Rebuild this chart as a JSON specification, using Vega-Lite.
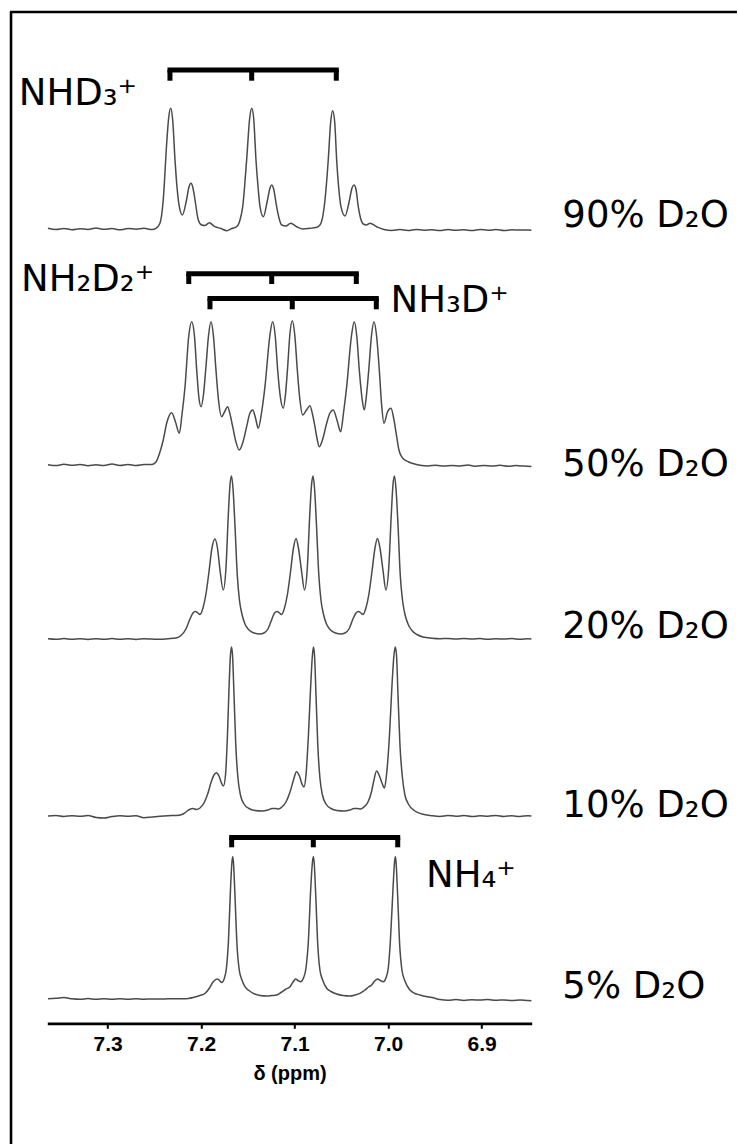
{
"$schema": "https://vega.github.io/schema/vega-lite/v6.json",
"usermeta": {"embedOptions": {"actions": false}},
"width": 484.4,
"height": 1132,
"autosize": {"type": "none"},
"padding": {"left": 47.3, "top": 12, "right": 206.3, "bottom": 0},
"background": "white",
"config": {
 "view": {"stroke": null},
 "axisX": {"grid": false, "labelFlush": false, "labelOverlap": false, "domainColor": "black", "domainWidth": 2.7, "tickColor": "black", "tickWidth": 2, "tickSize": 5,
  "labelFont": "Liberation Sans", "labelFontWeight": "bold", "labelFontSize": 21, "labelColor": "black", "labelPadding": 5,
  "titleFont": "Liberation Sans", "titleFontWeight": "bold", "titleFontSize": 20, "titleColor": "black", "titlePadding": 9},
 "text": {"font": "DejaVu Sans", "fontSize": 37, "align": "left", "baseline": "alphabetic", "color": "black"},
 "line": {"interpolate": "monotone", "color": "#4a4a4a", "strokeWidth": 1.5}
},
"datasets": {
"spectrum_90": [
{"ppm":7.3639,"intensity":0.8},{"ppm":7.3553,"intensity":-0.4},{"ppm":7.3468,"intensity":0.6},{"ppm":7.3382,"intensity":-0.7},{"ppm":7.3296,"intensity":0.3},{"ppm":7.3211,"intensity":-0.5},{"ppm":7.3125,"intensity":0.9},{"ppm":7.3040,"intensity":-0.3},{"ppm":7.2954,"intensity":0.4},{"ppm":7.2869,"intensity":-0.8},{"ppm":7.2783,"intensity":0.5},{"ppm":7.2697,"intensity":-0.2},{"ppm":7.2612,"intensity":0.7},{"ppm":7.2526,"intensity":-0.5},{"ppm":7.2484,"intensity":0.7},
{"ppm":7.2441,"intensity":5.7},{"ppm":7.2406,"intensity":29},{"ppm":7.2369,"intensity":85.7},{"ppm":7.2348,"intensity":111},{"ppm":7.2326,"intensity":120.7},{"ppm":7.2305,"intensity":109},{"ppm":7.2280,"intensity":69},{"ppm":7.2256,"intensity":39},{"ppm":7.2234,"intensity":22.3},{"ppm":7.2202,"intensity":14},{"ppm":7.2157,"intensity":29},{"ppm":7.2131,"intensity":42},{"ppm":7.2109,"intensity":45.7},{"ppm":7.2088,"intensity":41},{"ppm":7.2066,"intensity":29},{"ppm":7.2031,"intensity":9},{"ppm":7.1995,"intensity":4},{"ppm":7.1960,"intensity":3.5},{"ppm":7.1914,"intensity":6.3},{"ppm":7.1853,"intensity":2.3},{"ppm":7.1788,"intensity":0.5},{"ppm":7.1727,"intensity":-1.7},{"ppm":7.1671,"intensity":0.5},{"ppm":7.1620,"intensity":2.3},{"ppm":7.1585,"intensity":9},{"ppm":7.1556,"intensity":22.3},{"ppm":7.1514,"intensity":69},{"ppm":7.1481,"intensity":111},{"ppm":7.1460,"intensity":120.7},{"ppm":7.1439,"intensity":111},{"ppm":7.1414,"intensity":69},{"ppm":7.1389,"intensity":39},{"ppm":7.1371,"intensity":22.3},{"ppm":7.1336,"intensity":12.3},{"ppm":7.1291,"intensity":29},{"ppm":7.1264,"intensity":41},{"ppm":7.1246,"intensity":44},{"ppm":7.1225,"intensity":40},{"ppm":7.1193,"intensity":22.3},{"ppm":7.1168,"intensity":11},{"ppm":7.1139,"intensity":4},{"ppm":7.1093,"intensity":3},{"ppm":7.1043,"intensity":5.7},{"ppm":7.0979,"intensity":2.3},{"ppm":7.0911,"intensity":0},{"ppm":7.0837,"intensity":0.7},{"ppm":7.0772,"intensity":1.5},{"ppm":7.0730,"intensity":4},{"ppm":7.0697,"intensity":14},{"ppm":7.0676,"intensity":29},{"ppm":7.0641,"intensity":69},{"ppm":7.0615,"intensity":107},{"ppm":7.0594,"intensity":118.3},{"ppm":7.0572,"intensity":107},{"ppm":7.0551,"intensity":69},{"ppm":7.0527,"intensity":39},{"ppm":7.0505,"intensity":22.3},{"ppm":7.0462,"intensity":13},{"ppm":7.0414,"intensity":29},{"ppm":7.0387,"intensity":41},{"ppm":7.0366,"intensity":44},{"ppm":7.0345,"intensity":40},{"ppm":7.0320,"intensity":22.3},{"ppm":7.0296,"intensity":11},{"ppm":7.0266,"intensity":5},{"ppm":7.0232,"intensity":4},{"ppm":7.0195,"intensity":5.7},{"ppm":7.0123,"intensity":2.3},
{"ppm":7.0045,"intensity":-0.5},{"ppm":6.9960,"intensity":-1.4},{"ppm":6.9874,"intensity":-0.6},{"ppm":6.9788,"intensity":-1.5},{"ppm":6.9703,"intensity":-0.4},{"ppm":6.9617,"intensity":-1.2},{"ppm":6.9532,"intensity":-0.7},{"ppm":6.9446,"intensity":-1.6},{"ppm":6.9361,"intensity":-0.5},{"ppm":6.9275,"intensity":-1.3},{"ppm":6.9190,"intensity":-0.8},{"ppm":6.9104,"intensity":-1.5},{"ppm":6.9018,"intensity":-0.4},{"ppm":6.8933,"intensity":-1.2},{"ppm":6.8847,"intensity":-0.6},{"ppm":6.8762,"intensity":-1.6},{"ppm":6.8676,"intensity":-0.7},{"ppm":6.8591,"intensity":-1.1},{"ppm":6.8505,"intensity":-0.9},{"ppm":6.8468,"intensity":-1.2}
],
"spectrum_50": [
{"ppm":7.3639,"intensity":0.3},{"ppm":7.3553,"intensity":-0.6},{"ppm":7.3468,"intensity":0.8},{"ppm":7.3382,"intensity":-0.3},{"ppm":7.3296,"intensity":0.5},{"ppm":7.3211,"intensity":-0.7},{"ppm":7.3125,"intensity":0.2},{"ppm":7.3040,"intensity":-0.5},{"ppm":7.2954,"intensity":0.9},{"ppm":7.2869,"intensity":-0.4},{"ppm":7.2783,"intensity":0.6},{"ppm":7.2697,"intensity":-0.6},{"ppm":7.2612,"intensity":0.4},{"ppm":7.2526,"intensity":0.6},
{"ppm":7.2484,"intensity":3},{"ppm":7.2441,"intensity":13},{"ppm":7.2406,"intensity":25},{"ppm":7.2366,"intensity":43},{"ppm":7.2316,"intensity":52.3},{"ppm":7.2275,"intensity":43},{"ppm":7.2234,"intensity":31.7},{"ppm":7.2206,"intensity":50},{"ppm":7.2173,"intensity":78.3},{"ppm":7.2133,"intensity":129},{"ppm":7.2102,"intensity":143.3},{"ppm":7.2072,"intensity":129},{"ppm":7.2048,"intensity":95},{"ppm":7.2024,"intensity":67},{"ppm":7.2002,"intensity":58.3},{"ppm":7.1976,"intensity":70},{"ppm":7.1949,"intensity":98.3},{"ppm":7.1922,"intensity":129},{"ppm":7.1895,"intensity":143.3},{"ppm":7.1869,"intensity":129},{"ppm":7.1842,"intensity":95},{"ppm":7.1815,"intensity":65},{"ppm":7.1781,"intensity":48.3},{"ppm":7.1751,"intensity":53},{"ppm":7.1717,"intensity":58.3},{"ppm":7.1692,"intensity":51},{"ppm":7.1663,"intensity":38.3},{"ppm":7.1628,"intensity":23},{"ppm":7.1593,"intensity":15},{"ppm":7.1553,"intensity":23},{"ppm":7.1514,"intensity":38.3},{"ppm":7.1482,"intensity":51},{"ppm":7.1449,"intensity":55},{"ppm":7.1419,"intensity":47},{"ppm":7.1390,"intensity":36.7},{"ppm":7.1355,"intensity":52},{"ppm":7.1318,"intensity":78.3},{"ppm":7.1266,"intensity":129},{"ppm":7.1236,"intensity":143.3},{"ppm":7.1208,"intensity":129},{"ppm":7.1182,"intensity":95},{"ppm":7.1152,"intensity":67},{"ppm":7.1122,"intensity":56.7},{"ppm":7.1099,"intensity":70},{"ppm":7.1075,"intensity":98.3},{"ppm":7.1052,"intensity":130},{"ppm":7.1026,"intensity":144.3},{"ppm":7.0999,"intensity":130},{"ppm":7.0972,"intensity":95},{"ppm":7.0944,"intensity":65},{"ppm":7.0915,"intensity":50},{"ppm":7.0874,"intensity":55},{"ppm":7.0837,"intensity":59.3},{"ppm":7.0810,"intensity":51},{"ppm":7.0783,"intensity":38.3},{"ppm":7.0762,"intensity":27},{"ppm":7.0737,"intensity":18.3},{"ppm":7.0703,"intensity":25},{"ppm":7.0658,"intensity":41.7},{"ppm":7.0623,"intensity":52},{"ppm":7.0587,"intensity":55},{"ppm":7.0548,"intensity":45},{"ppm":7.0508,"intensity":33.3},{"ppm":7.0478,"intensity":52},{"ppm":7.0444,"intensity":78.3},{"ppm":7.0393,"intensity":129},{"ppm":7.0363,"intensity":143.3},{"ppm":7.0336,"intensity":129},{"ppm":7.0309,"intensity":95},{"ppm":7.0280,"intensity":67},{"ppm":7.0256,"intensity":55},{"ppm":7.0232,"intensity":70},{"ppm":7.0205,"intensity":98.3},{"ppm":7.0179,"intensity":129},{"ppm":7.0152,"intensity":143.3},{"ppm":7.0124,"intensity":129},{"ppm":7.0095,"intensity":95},{"ppm":7.0070,"intensity":60},{"ppm":7.0045,"intensity":41.7},{"ppm":7.0008,"intensity":53},{"ppm":6.9970,"intensity":56.7},{"ppm":6.9938,"intensity":45},{"ppm":6.9909,"intensity":28.3},{"ppm":6.9885,"intensity":15},{"ppm":6.9856,"intensity":8.3},{"ppm":6.9821,"intensity":5},{"ppm":6.9785,"intensity":3.3},{"ppm":6.9735,"intensity":1.5},
{"ppm":6.9660,"intensity":-0.3},{"ppm":6.9575,"intensity":-1.0},{"ppm":6.9489,"intensity":-0.2},{"ppm":6.9403,"intensity":-1.1},{"ppm":6.9318,"intensity":-0.4},{"ppm":6.9232,"intensity":-0.9},{"ppm":6.9147,"intensity":-0.1},{"ppm":6.9061,"intensity":-1.2},{"ppm":6.8976,"intensity":-0.5},{"ppm":6.8890,"intensity":-1.0},{"ppm":6.8805,"intensity":-0.3},{"ppm":6.8719,"intensity":-1.3},{"ppm":6.8633,"intensity":-0.6},{"ppm":6.8548,"intensity":-1.1},{"ppm":6.8468,"intensity":-1.5}
],
"spectrum_20": [
{"ppm":7.3639,"intensity":0.2},{"ppm":7.3553,"intensity":-0.3},{"ppm":7.3468,"intensity":0.4},{"ppm":7.3382,"intensity":-0.2},{"ppm":7.3296,"intensity":0.3},{"ppm":7.3211,"intensity":-0.4},{"ppm":7.3125,"intensity":0.2},{"ppm":7.3040,"intensity":-0.3},{"ppm":7.2954,"intensity":0.4},{"ppm":7.2869,"intensity":-0.2},{"ppm":7.2783,"intensity":0.3},{"ppm":7.2697,"intensity":-0.4},{"ppm":7.2612,"intensity":0.2},{"ppm":7.2526,"intensity":-0.1},{"ppm":7.2441,"intensity":-0.3},{"ppm":7.2355,"intensity":0.3},
{"ppm":7.2270,"intensity":1},{"ppm":7.2216,"intensity":3.5},{"ppm":7.2163,"intensity":10},{"ppm":7.2120,"intensity":20},{"ppm":7.2088,"intensity":26},{"ppm":7.2061,"intensity":27.5},{"ppm":7.2034,"intensity":26},{"ppm":7.2013,"intensity":24.5},{"ppm":7.1981,"intensity":31},{"ppm":7.1949,"intensity":45},{"ppm":7.1917,"intensity":67},{"ppm":7.1885,"intensity":91},{"ppm":7.1853,"intensity":100},{"ppm":7.1826,"intensity":91},{"ppm":7.1799,"intensity":69},{"ppm":7.1764,"intensity":49},{"ppm":7.1735,"intensity":71},{"ppm":7.1710,"intensity":124},{"ppm":7.1692,"intensity":154},{"ppm":7.1676,"intensity":163},{"ppm":7.1660,"intensity":151},{"ppm":7.1639,"intensity":114},{"ppm":7.1614,"intensity":64},{"ppm":7.1591,"intensity":39},{"ppm":7.1567,"intensity":26},{"ppm":7.1532,"intensity":15},{"ppm":7.1489,"intensity":9},{"ppm":7.1436,"intensity":6},{"ppm":7.1371,"intensity":5},{"ppm":7.1329,"intensity":6},{"ppm":7.1286,"intensity":10},{"ppm":7.1243,"intensity":20},{"ppm":7.1216,"intensity":26},{"ppm":7.1189,"intensity":27.5},{"ppm":7.1163,"intensity":26},{"ppm":7.1141,"intensity":24.5},{"ppm":7.1109,"intensity":31},{"ppm":7.1077,"intensity":45},{"ppm":7.1045,"intensity":67},{"ppm":7.1013,"intensity":91},{"ppm":7.0986,"intensity":100.5},{"ppm":7.0960,"intensity":91},{"ppm":7.0928,"intensity":69},{"ppm":7.0895,"intensity":49},{"ppm":7.0865,"intensity":71},{"ppm":7.0839,"intensity":124},{"ppm":7.0820,"intensity":154},{"ppm":7.0804,"intensity":163},{"ppm":7.0788,"intensity":151},{"ppm":7.0767,"intensity":114},{"ppm":7.0742,"intensity":64},{"ppm":7.0719,"intensity":39},{"ppm":7.0695,"intensity":26},{"ppm":7.0660,"intensity":15},{"ppm":7.0617,"intensity":9},{"ppm":7.0564,"intensity":6},{"ppm":7.0505,"intensity":5},{"ppm":7.0462,"intensity":6},{"ppm":7.0419,"intensity":10},{"ppm":7.0377,"intensity":20},{"ppm":7.0344,"intensity":26},{"ppm":7.0318,"intensity":27.5},{"ppm":7.0291,"intensity":26},{"ppm":7.0270,"intensity":24.5},{"ppm":7.0238,"intensity":31},{"ppm":7.0206,"intensity":45},{"ppm":7.0174,"intensity":67},{"ppm":7.0141,"intensity":91},{"ppm":7.0115,"intensity":100.5},{"ppm":7.0088,"intensity":91},{"ppm":7.0056,"intensity":69},{"ppm":7.0024,"intensity":49},{"ppm":6.9994,"intensity":71},{"ppm":6.9967,"intensity":124},{"ppm":6.9949,"intensity":154},{"ppm":6.9933,"intensity":163},{"ppm":6.9917,"intensity":151},{"ppm":6.9895,"intensity":114},{"ppm":6.9871,"intensity":64},{"ppm":6.9847,"intensity":39},{"ppm":6.9824,"intensity":26},{"ppm":6.9788,"intensity":15},{"ppm":6.9746,"intensity":8.5},{"ppm":6.9692,"intensity":4.5},{"ppm":6.9628,"intensity":2},
{"ppm":6.9532,"intensity":0.8},{"ppm":6.9446,"intensity":0.3},{"ppm":6.9361,"intensity":0.6},{"ppm":6.9275,"intensity":0.1},{"ppm":6.9190,"intensity":0.5},{"ppm":6.9104,"intensity":0.0},{"ppm":6.9018,"intensity":0.4},{"ppm":6.8933,"intensity":-0.2},{"ppm":6.8847,"intensity":0.3},{"ppm":6.8762,"intensity":-0.1},{"ppm":6.8676,"intensity":0.4},{"ppm":6.8591,"intensity":-0.3},{"ppm":6.8505,"intensity":0.2},{"ppm":6.8468,"intensity":0.0}
],
"spectrum_10": [
{"ppm":7.3639,"intensity":0.0},{"ppm":7.3553,"intensity":0.5},{"ppm":7.3468,"intensity":-0.5},{"ppm":7.3382,"intensity":0.3},{"ppm":7.3296,"intensity":-0.2},{"ppm":7.3211,"intensity":0.4},{"ppm":7.3125,"intensity":-1.5},{"ppm":7.3040,"intensity":-2.0},{"ppm":7.2954,"intensity":-0.5},{"ppm":7.2869,"intensity":0.3},{"ppm":7.2783,"intensity":-0.2},{"ppm":7.2697,"intensity":0.2},{"ppm":7.2612,"intensity":-1.8},{"ppm":7.2526,"intensity":-1.0},{"ppm":7.2441,"intensity":-0.2},{"ppm":7.2355,"intensity":0.3},
{"ppm":7.2270,"intensity":0.5},{"ppm":7.2206,"intensity":1.5},{"ppm":7.2163,"intensity":4},{"ppm":7.2125,"intensity":6.5},{"ppm":7.2088,"intensity":7.5},{"ppm":7.2050,"intensity":6.5},{"ppm":7.2013,"intensity":8},{"ppm":7.1970,"intensity":13},{"ppm":7.1927,"intensity":23},{"ppm":7.1890,"intensity":35},{"ppm":7.1863,"intensity":41},{"ppm":7.1837,"intensity":43.3},{"ppm":7.1810,"intensity":40},{"ppm":7.1783,"intensity":33},{"ppm":7.1762,"intensity":30},{"ppm":7.1740,"intensity":41},{"ppm":7.1719,"intensity":81},{"ppm":7.1703,"intensity":126},{"ppm":7.1687,"intensity":161},{"ppm":7.1676,"intensity":169},{"ppm":7.1665,"intensity":161},{"ppm":7.1649,"intensity":121},{"ppm":7.1630,"intensity":71},{"ppm":7.1607,"intensity":38},{"ppm":7.1580,"intensity":21},{"ppm":7.1542,"intensity":12},{"ppm":7.1489,"intensity":7.5},{"ppm":7.1425,"intensity":5.5},{"ppm":7.1350,"intensity":5},{"ppm":7.1286,"intensity":6},{"ppm":7.1243,"intensity":7.5},{"ppm":7.1205,"intensity":7.5},{"ppm":7.1173,"intensity":7},{"ppm":7.1136,"intensity":9},{"ppm":7.1093,"intensity":14},{"ppm":7.1050,"intensity":24},{"ppm":7.1013,"intensity":36},{"ppm":7.0981,"intensity":44.3},{"ppm":7.0949,"intensity":40},{"ppm":7.0922,"intensity":32},{"ppm":7.0901,"intensity":29},{"ppm":7.0879,"intensity":41},{"ppm":7.0853,"intensity":81},{"ppm":7.0831,"intensity":126},{"ppm":7.0810,"intensity":161},{"ppm":7.0799,"intensity":169},{"ppm":7.0788,"intensity":161},{"ppm":7.0772,"intensity":121},{"ppm":7.0753,"intensity":71},{"ppm":7.0730,"intensity":38},{"ppm":7.0703,"intensity":21},{"ppm":7.0665,"intensity":12},{"ppm":7.0612,"intensity":7.5},{"ppm":7.0548,"intensity":5.5},{"ppm":7.0473,"intensity":5},{"ppm":7.0409,"intensity":6},{"ppm":7.0366,"intensity":7.5},{"ppm":7.0334,"intensity":7.5},{"ppm":7.0296,"intensity":7},{"ppm":7.0259,"intensity":9},{"ppm":7.0216,"intensity":14},{"ppm":7.0179,"intensity":24},{"ppm":7.0152,"intensity":36},{"ppm":7.0125,"intensity":45},{"ppm":7.0093,"intensity":40},{"ppm":7.0066,"intensity":33},{"ppm":7.0040,"intensity":28},{"ppm":7.0018,"intensity":41},{"ppm":6.9986,"intensity":81},{"ppm":6.9962,"intensity":126},{"ppm":6.9938,"intensity":161},{"ppm":6.9924,"intensity":169},{"ppm":6.9911,"intensity":161},{"ppm":6.9895,"intensity":121},{"ppm":6.9874,"intensity":71},{"ppm":6.9847,"intensity":38},{"ppm":6.9821,"intensity":21},{"ppm":6.9778,"intensity":11},{"ppm":6.9714,"intensity":5},{"ppm":6.9639,"intensity":2},
{"ppm":6.9532,"intensity":0.3},{"ppm":6.9446,"intensity":-0.4},{"ppm":6.9361,"intensity":0.5},{"ppm":6.9275,"intensity":-0.2},{"ppm":6.9190,"intensity":0.4},{"ppm":6.9104,"intensity":-0.6},{"ppm":6.9018,"intensity":0.2},{"ppm":6.8933,"intensity":-0.3},{"ppm":6.8847,"intensity":0.6},{"ppm":6.8762,"intensity":-0.4},{"ppm":6.8676,"intensity":0.2},{"ppm":6.8591,"intensity":-0.5},{"ppm":6.8505,"intensity":0.3},{"ppm":6.8468,"intensity":0.0}
],
"spectrum_5": [
{"ppm":7.3639,"intensity":0.3},{"ppm":7.3553,"intensity":0.8},{"ppm":7.3468,"intensity":1.5},{"ppm":7.3382,"intensity":0.2},{"ppm":7.3296,"intensity":-0.3},{"ppm":7.3211,"intensity":0.4},{"ppm":7.3125,"intensity":-0.2},{"ppm":7.3040,"intensity":0.3},{"ppm":7.2954,"intensity":-0.3},{"ppm":7.2869,"intensity":0.2},{"ppm":7.2783,"intensity":-0.2},{"ppm":7.2697,"intensity":0.3},{"ppm":7.2612,"intensity":-0.2},{"ppm":7.2526,"intensity":0.1},{"ppm":7.2441,"intensity":0.0},{"ppm":7.2355,"intensity":0.2},{"ppm":7.2270,"intensity":0.3},{"ppm":7.2184,"intensity":0.3},
{"ppm":7.2141,"intensity":0.5},{"ppm":7.2067,"intensity":2},{"ppm":7.2013,"intensity":3.5},{"ppm":7.1960,"intensity":5.5},{"ppm":7.1911,"intensity":11},{"ppm":7.1871,"intensity":17.3},{"ppm":7.1824,"intensity":20},{"ppm":7.1781,"intensity":16.5},{"ppm":7.1751,"intensity":21},{"ppm":7.1730,"intensity":31},{"ppm":7.1708,"intensity":59},{"ppm":7.1687,"intensity":109},{"ppm":7.1671,"intensity":137},{"ppm":7.1663,"intensity":142.3},{"ppm":7.1655,"intensity":137},{"ppm":7.1639,"intensity":104},{"ppm":7.1617,"intensity":54},{"ppm":7.1593,"intensity":29},{"ppm":7.1564,"intensity":19},{"ppm":7.1532,"intensity":12.3},{"ppm":7.1489,"intensity":8.5},{"ppm":7.1443,"intensity":5.7},{"ppm":7.1371,"intensity":3.5},{"ppm":7.1300,"intensity":3},{"ppm":7.1243,"intensity":3.5},{"ppm":7.1193,"intensity":4},{"ppm":7.1147,"intensity":6.5},{"ppm":7.1093,"intensity":10},{"ppm":7.1050,"intensity":12.3},{"ppm":7.1018,"intensity":17},{"ppm":7.0990,"intensity":20},{"ppm":7.0965,"intensity":18.5},{"ppm":7.0936,"intensity":17.3},{"ppm":7.0906,"intensity":21},{"ppm":7.0879,"intensity":31},{"ppm":7.0853,"intensity":59},{"ppm":7.0829,"intensity":109},{"ppm":7.0810,"intensity":137},{"ppm":7.0801,"intensity":142.3},{"ppm":7.0792,"intensity":137},{"ppm":7.0775,"intensity":104},{"ppm":7.0753,"intensity":54},{"ppm":7.0730,"intensity":29},{"ppm":7.0701,"intensity":19},{"ppm":7.0658,"intensity":10.7},{"ppm":7.0612,"intensity":7.5},{"ppm":7.0551,"intensity":5},{"ppm":7.0484,"intensity":3.5},{"ppm":7.0409,"intensity":3},{"ppm":7.0355,"intensity":4},{"ppm":7.0302,"intensity":5.7},{"ppm":7.0248,"intensity":9},{"ppm":7.0211,"intensity":12},{"ppm":7.0177,"intensity":14},{"ppm":7.0145,"intensity":18},{"ppm":7.0113,"intensity":20},{"ppm":7.0083,"intensity":18.5},{"ppm":7.0053,"intensity":17.3},{"ppm":7.0024,"intensity":21},{"ppm":6.9999,"intensity":31},{"ppm":6.9976,"intensity":59},{"ppm":6.9949,"intensity":109},{"ppm":6.9932,"intensity":137},{"ppm":6.9924,"intensity":142.3},{"ppm":6.9916,"intensity":137},{"ppm":6.9899,"intensity":104},{"ppm":6.9877,"intensity":54},{"ppm":6.9853,"intensity":29},{"ppm":6.9821,"intensity":18},{"ppm":6.9767,"intensity":9},{"ppm":6.9714,"intensity":5.5},{"ppm":6.9660,"intensity":4},{"ppm":6.9596,"intensity":2.5},{"ppm":6.9532,"intensity":1.5},
{"ppm":6.9446,"intensity":-0.5},{"ppm":6.9361,"intensity":-1.2},{"ppm":6.9275,"intensity":-0.6},{"ppm":6.9190,"intensity":-1.4},{"ppm":6.9104,"intensity":-0.8},{"ppm":6.9018,"intensity":-1.1},{"ppm":6.8933,"intensity":-0.5},{"ppm":6.8847,"intensity":-1.3},{"ppm":6.8762,"intensity":-0.9},{"ppm":6.8676,"intensity":-1.5},{"ppm":6.8591,"intensity":-1.0},{"ppm":6.8505,"intensity":-1.6},{"ppm":6.8468,"intensity":-1.7}
],
"bracket_legs": [
{"species":"NHD3+","ppm":7.2334},{"species":"NHD3+","ppm":7.1460},{"species":"NHD3+","ppm":7.0555},
{"species":"NH2D2+","ppm":7.2133},{"species":"NH2D2+","ppm":7.1246},{"species":"NH2D2+","ppm":7.0341},
{"species":"NH3D+","ppm":7.1906},{"species":"NH3D+","ppm":7.1026},{"species":"NH3D+","ppm":7.0127},
{"species":"NH4+","ppm":7.1674},{"species":"NH4+","ppm":7.0801},{"species":"NH4+","ppm":6.9898}
],
"labels": [
{"id":"NHD3","text":"NHD₃⁺"},{"id":"NH2D2","text":"NH₂D₂⁺"},{"id":"NH3D","text":"NH₃D⁺"},{"id":"NH4","text":"NH₄⁺"},
{"id":"p90","text":"90% D₂O"},{"id":"p50","text":"50% D₂O"},{"id":"p20","text":"20% D₂O"},{"id":"p10","text":"10% D₂O"},{"id":"p5","text":"5% D₂O"}
],
"frame": [{"edge":"left"},{"edge":"top"}]
},
"layer": [
{"data":{"name":"spectrum_90"},"mark":{"type":"line"},
 "encoding":{"x":{"field":"ppm","type":"quantitative","scale":{"domain":[6.8465,7.3646],"reverse":true,"nice":false,"zero":false},
   "axis":{"values":[7.3,7.2,7.1,7.0,6.9],"format":".1f","title":"δ (ppm)","offset":-120.7,"labelFontSize":21,"titleFontSize":20,"titlePadding":9,"labelPadding":5}},
  "y":{"field":"intensity","type":"quantitative","scale":{"domain":[-915,217],"nice":false,"zero":false},"axis":null}}},
{"layer": [
 {"data":{"name":"frame"},"transform":[{"filter":"datum.edge === 'left'"}],"mark":{"type":"rule","color":"black","strokeWidth":2.6},
  "encoding":{"x":{"datum":7.4034,"type":"quantitative","scale":{"domain":[6.8465,7.3646],"reverse":true,"nice":false,"zero":false},"axis":{"values":[7.3,7.2,7.1,7.0,6.9],"format":".1f","title":"δ (ppm)","offset":-120.7,"labelFontSize":21,"titleFontSize":20,"titlePadding":9,"labelPadding":5}}}},
 {"data":{"name":"frame"},"transform":[{"filter":"datum.edge === 'top'"}],"mark":{"type":"rule","color":"black","strokeWidth":2.6},
  "encoding":{"x":{"datum":7.4046,"type":"quantitative","scale":{"domain":[6.8465,7.3646],"reverse":true,"nice":false,"zero":false},"axis":{"values":[7.3,7.2,7.1,7.0,6.9],"format":".1f","title":"δ (ppm)","offset":-120.7,"labelFontSize":21,"titleFontSize":20,"titlePadding":9,"labelPadding":5}},"x2":{"datum":6.6270},
   "y":{"datum":217,"type":"quantitative","scale":{"domain":[-915,217],"nice":false,"zero":false},"axis":null}}},
 {"data":{"name":"bracket_legs"},"transform":[{"filter":"datum.species === 'NHD3+'"}],"mark":{"type":"rule","color":"black","strokeWidth":5,"strokeCap":"square"},
  "encoding":{"x":{"field":"ppm","aggregate":"min","type":"quantitative","scale":{"domain":[6.8465,7.3646],"reverse":true,"nice":false,"zero":false},"axis":{"values":[7.3,7.2,7.1,7.0,6.9],"format":".1f","title":"δ (ppm)","offset":-120.7,"labelFontSize":21,"titleFontSize":20,"titlePadding":9,"labelPadding":5}},"x2":{"field":"ppm","aggregate":"max"},
   "y":{"datum":159,"type":"quantitative","scale":{"domain":[-915,217],"nice":false,"zero":false},"axis":null}}},
 {"data":{"name":"bracket_legs"},"transform":[{"filter":"datum.species === 'NHD3+'"}],"mark":{"type":"rule","color":"black","strokeWidth":5},
  "encoding":{"x":{"field":"ppm","type":"quantitative","scale":{"domain":[6.8465,7.3646],"reverse":true,"nice":false,"zero":false},"axis":{"values":[7.3,7.2,7.1,7.0,6.9],"format":".1f","title":"δ (ppm)","offset":-120.7,"labelFontSize":21,"titleFontSize":20,"titlePadding":9,"labelPadding":5}},
   "y":{"datum":159,"type":"quantitative","scale":{"domain":[-915,217],"nice":false,"zero":false},"axis":null},"y2":{"datum":148.3}}},
 {"data":{"name":"labels"},"transform":[{"filter":"datum.id === 'NHD3'"}],"mark":{"type":"text"},
  "encoding":{"x":{"datum":7.3951,"type":"quantitative","scale":{"domain":[6.8465,7.3646],"reverse":true,"nice":false,"zero":false},"axis":{"values":[7.3,7.2,7.1,7.0,6.9],"format":".1f","title":"δ (ppm)","offset":-120.7,"labelFontSize":21,"titleFontSize":20,"titlePadding":9,"labelPadding":5}},
   "y":{"datum":124,"type":"quantitative","scale":{"domain":[-915,217],"nice":false,"zero":false},"axis":null},"text":{"field":"text"}}},
 {"data":{"name":"labels"},"transform":[{"filter":"datum.id === 'p90'"}],"mark":{"type":"text"},
  "encoding":{"x":{"datum":6.8137,"type":"quantitative","scale":{"domain":[6.8465,7.3646],"reverse":true,"nice":false,"zero":false},"axis":{"values":[7.3,7.2,7.1,7.0,6.9],"format":".1f","title":"δ (ppm)","offset":-120.7,"labelFontSize":21,"titleFontSize":20,"titlePadding":9,"labelPadding":5}},
   "y":{"datum":2.3,"type":"quantitative","scale":{"domain":[-915,217],"nice":false,"zero":false},"axis":null},"text":{"field":"text"}}}
]},
{"layer": [
 {"data":{"name":"spectrum_50"},"mark":{"type":"line"},
  "encoding":{"x":{"field":"ppm","type":"quantitative","scale":{"domain":[6.8465,7.3646],"reverse":true,"nice":false,"zero":false},"axis":{"values":[7.3,7.2,7.1,7.0,6.9],"format":".1f","title":"δ (ppm)","offset":-120.7,"labelFontSize":21,"titleFontSize":20,"titlePadding":9,"labelPadding":5}},
   "y":{"field":"intensity","type":"quantitative","scale":{"domain":[-679,453],"nice":false,"zero":false},"axis":null}}},
 {"data":{"name":"bracket_legs"},"transform":[{"filter":"datum.species === 'NH2D2+'"}],"mark":{"type":"rule","color":"black","strokeWidth":5,"strokeCap":"square"},
  "encoding":{"x":{"field":"ppm","aggregate":"min","type":"quantitative","scale":{"domain":[6.8465,7.3646],"reverse":true,"nice":false,"zero":false},"axis":{"values":[7.3,7.2,7.1,7.0,6.9],"format":".1f","title":"δ (ppm)","offset":-120.7,"labelFontSize":21,"titleFontSize":20,"titlePadding":9,"labelPadding":5}},"x2":{"field":"ppm","aggregate":"max"},
   "y":{"datum":191.2,"type":"quantitative","scale":{"domain":[-679,453],"nice":false,"zero":false},"axis":null}}},
 {"data":{"name":"bracket_legs"},"transform":[{"filter":"datum.species === 'NH2D2+'"}],"mark":{"type":"rule","color":"black","strokeWidth":5},
  "encoding":{"x":{"field":"ppm","type":"quantitative","scale":{"domain":[6.8465,7.3646],"reverse":true,"nice":false,"zero":false},"axis":{"values":[7.3,7.2,7.1,7.0,6.9],"format":".1f","title":"δ (ppm)","offset":-120.7,"labelFontSize":21,"titleFontSize":20,"titlePadding":9,"labelPadding":5}},
   "y":{"datum":191.2,"type":"quantitative","scale":{"domain":[-679,453],"nice":false,"zero":false},"axis":null},"y2":{"datum":181}}},
 {"data":{"name":"bracket_legs"},"transform":[{"filter":"datum.species === 'NH3D+'"}],"mark":{"type":"rule","color":"black","strokeWidth":5,"strokeCap":"square"},
  "encoding":{"x":{"field":"ppm","aggregate":"min","type":"quantitative","scale":{"domain":[6.8465,7.3646],"reverse":true,"nice":false,"zero":false},"axis":{"values":[7.3,7.2,7.1,7.0,6.9],"format":".1f","title":"δ (ppm)","offset":-120.7,"labelFontSize":21,"titleFontSize":20,"titlePadding":9,"labelPadding":5}},"x2":{"field":"ppm","aggregate":"max"},
   "y":{"datum":166.5,"type":"quantitative","scale":{"domain":[-679,453],"nice":false,"zero":false},"axis":null}}},
 {"data":{"name":"bracket_legs"},"transform":[{"filter":"datum.species === 'NH3D+'"}],"mark":{"type":"rule","color":"black","strokeWidth":5},
  "encoding":{"x":{"field":"ppm","type":"quantitative","scale":{"domain":[6.8465,7.3646],"reverse":true,"nice":false,"zero":false},"axis":{"values":[7.3,7.2,7.1,7.0,6.9],"format":".1f","title":"δ (ppm)","offset":-120.7,"labelFontSize":21,"titleFontSize":20,"titlePadding":9,"labelPadding":5}},
   "y":{"datum":166.5,"type":"quantitative","scale":{"domain":[-679,453],"nice":false,"zero":false},"axis":null},"y2":{"datum":155.7}}},
 {"data":{"name":"labels"},"transform":[{"filter":"datum.id === 'NH2D2'"}],"mark":{"type":"text"},
  "encoding":{"x":{"datum":7.3927,"type":"quantitative","scale":{"domain":[6.8465,7.3646],"reverse":true,"nice":false,"zero":false},"axis":{"values":[7.3,7.2,7.1,7.0,6.9],"format":".1f","title":"δ (ppm)","offset":-120.7,"labelFontSize":21,"titleFontSize":20,"titlePadding":9,"labelPadding":5}},
   "y":{"datum":174,"type":"quantitative","scale":{"domain":[-679,453],"nice":false,"zero":false},"axis":null},"text":{"field":"text"}}},
 {"data":{"name":"labels"},"transform":[{"filter":"datum.id === 'NH3D'"}],"mark":{"type":"text"},
  "encoding":{"x":{"datum":6.9975,"type":"quantitative","scale":{"domain":[6.8465,7.3646],"reverse":true,"nice":false,"zero":false},"axis":{"values":[7.3,7.2,7.1,7.0,6.9],"format":".1f","title":"δ (ppm)","offset":-120.7,"labelFontSize":21,"titleFontSize":20,"titlePadding":9,"labelPadding":5}},
   "y":{"datum":153,"type":"quantitative","scale":{"domain":[-679,453],"nice":false,"zero":false},"axis":null},"text":{"field":"text"}}},
 {"data":{"name":"labels"},"transform":[{"filter":"datum.id === 'p50'"}],"mark":{"type":"text"},
  "encoding":{"x":{"datum":6.8137,"type":"quantitative","scale":{"domain":[6.8465,7.3646],"reverse":true,"nice":false,"zero":false},"axis":{"values":[7.3,7.2,7.1,7.0,6.9],"format":".1f","title":"δ (ppm)","offset":-120.7,"labelFontSize":21,"titleFontSize":20,"titlePadding":9,"labelPadding":5}},
   "y":{"datum":-11,"type":"quantitative","scale":{"domain":[-679,453],"nice":false,"zero":false},"axis":null},"text":{"field":"text"}}}
]},
{"layer": [
 {"data":{"name":"spectrum_20"},"mark":{"type":"line"},
  "encoding":{"x":{"field":"ppm","type":"quantitative","scale":{"domain":[6.8465,7.3646],"reverse":true,"nice":false,"zero":false},"axis":{"values":[7.3,7.2,7.1,7.0,6.9],"format":".1f","title":"δ (ppm)","offset":-120.7,"labelFontSize":21,"titleFontSize":20,"titlePadding":9,"labelPadding":5}},
   "y":{"field":"intensity","type":"quantitative","scale":{"domain":[-505,627],"nice":false,"zero":false},"axis":null}}},
 {"data":{"name":"labels"},"transform":[{"filter":"datum.id === 'p20'"}],"mark":{"type":"text"},
  "encoding":{"x":{"datum":6.8137,"type":"quantitative","scale":{"domain":[6.8465,7.3646],"reverse":true,"nice":false,"zero":false},"axis":{"values":[7.3,7.2,7.1,7.0,6.9],"format":".1f","title":"δ (ppm)","offset":-120.7,"labelFontSize":21,"titleFontSize":20,"titlePadding":9,"labelPadding":5}},
   "y":{"datum":0.7,"type":"quantitative","scale":{"domain":[-505,627],"nice":false,"zero":false},"axis":null},"text":{"field":"text"}}}
]},
{"layer": [
 {"data":{"name":"spectrum_10"},"mark":{"type":"line"},
  "encoding":{"x":{"field":"ppm","type":"quantitative","scale":{"domain":[6.8465,7.3646],"reverse":true,"nice":false,"zero":false},"axis":{"values":[7.3,7.2,7.1,7.0,6.9],"format":".1f","title":"δ (ppm)","offset":-120.7,"labelFontSize":21,"titleFontSize":20,"titlePadding":9,"labelPadding":5}},
   "y":{"field":"intensity","type":"quantitative","scale":{"domain":[-328,804],"nice":false,"zero":false},"axis":null}}},
 {"data":{"name":"labels"},"transform":[{"filter":"datum.id === 'p10'"}],"mark":{"type":"text"},
  "encoding":{"x":{"datum":6.8137,"type":"quantitative","scale":{"domain":[6.8465,7.3646],"reverse":true,"nice":false,"zero":false},"axis":{"values":[7.3,7.2,7.1,7.0,6.9],"format":".1f","title":"δ (ppm)","offset":-120.7,"labelFontSize":21,"titleFontSize":20,"titlePadding":9,"labelPadding":5}},
   "y":{"datum":-0.7,"type":"quantitative","scale":{"domain":[-328,804],"nice":false,"zero":false},"axis":null},"text":{"field":"text"}}}
]},
{"layer": [
 {"data":{"name":"spectrum_5"},"mark":{"type":"line"},
  "encoding":{"x":{"field":"ppm","type":"quantitative","scale":{"domain":[6.8465,7.3646],"reverse":true,"nice":false,"zero":false},"axis":{"values":[7.3,7.2,7.1,7.0,6.9],"format":".1f","title":"δ (ppm)","offset":-120.7,"labelFontSize":21,"titleFontSize":20,"titlePadding":9,"labelPadding":5}},
   "y":{"field":"intensity","type":"quantitative","scale":{"domain":[-145,987],"nice":false,"zero":false},"axis":null}}},
 {"data":{"name":"bracket_legs"},"transform":[{"filter":"datum.species === 'NH4+'"}],"mark":{"type":"rule","color":"black","strokeWidth":5,"strokeCap":"square"},
  "encoding":{"x":{"field":"ppm","aggregate":"min","type":"quantitative","scale":{"domain":[6.8465,7.3646],"reverse":true,"nice":false,"zero":false},"axis":{"values":[7.3,7.2,7.1,7.0,6.9],"format":".1f","title":"δ (ppm)","offset":-120.7,"labelFontSize":21,"titleFontSize":20,"titlePadding":9,"labelPadding":5}},"x2":{"field":"ppm","aggregate":"max"},
   "y":{"datum":161.5,"type":"quantitative","scale":{"domain":[-145,987],"nice":false,"zero":false},"axis":null}}},
 {"data":{"name":"bracket_legs"},"transform":[{"filter":"datum.species === 'NH4+'"}],"mark":{"type":"rule","color":"black","strokeWidth":5},
  "encoding":{"x":{"field":"ppm","type":"quantitative","scale":{"domain":[6.8465,7.3646],"reverse":true,"nice":false,"zero":false},"axis":{"values":[7.3,7.2,7.1,7.0,6.9],"format":".1f","title":"δ (ppm)","offset":-120.7,"labelFontSize":21,"titleFontSize":20,"titlePadding":9,"labelPadding":5}},
   "y":{"datum":161.5,"type":"quantitative","scale":{"domain":[-145,987],"nice":false,"zero":false},"axis":null},"y2":{"datum":151.7}}},
 {"data":{"name":"labels"},"transform":[{"filter":"datum.id === 'NH4'"}],"mark":{"type":"text"},
  "encoding":{"x":{"datum":6.9596,"type":"quantitative","scale":{"domain":[6.8465,7.3646],"reverse":true,"nice":false,"zero":false},"axis":{"values":[7.3,7.2,7.1,7.0,6.9],"format":".1f","title":"δ (ppm)","offset":-120.7,"labelFontSize":21,"titleFontSize":20,"titlePadding":9,"labelPadding":5}},
   "y":{"datum":112.3,"type":"quantitative","scale":{"domain":[-145,987],"nice":false,"zero":false},"axis":null},"text":{"field":"text"}}},
 {"data":{"name":"labels"},"transform":[{"filter":"datum.id === 'p5'"}],"mark":{"type":"text"},
  "encoding":{"x":{"datum":6.8137,"type":"quantitative","scale":{"domain":[6.8465,7.3646],"reverse":true,"nice":false,"zero":false},"axis":{"values":[7.3,7.2,7.1,7.0,6.9],"format":".1f","title":"δ (ppm)","offset":-120.7,"labelFontSize":21,"titleFontSize":20,"titlePadding":9,"labelPadding":5}},
   "y":{"datum":0.7,"type":"quantitative","scale":{"domain":[-145,987],"nice":false,"zero":false},"axis":null},"text":{"field":"text"}}}
]}
],
"resolve": {"scale": {"y": "independent"}}
}
